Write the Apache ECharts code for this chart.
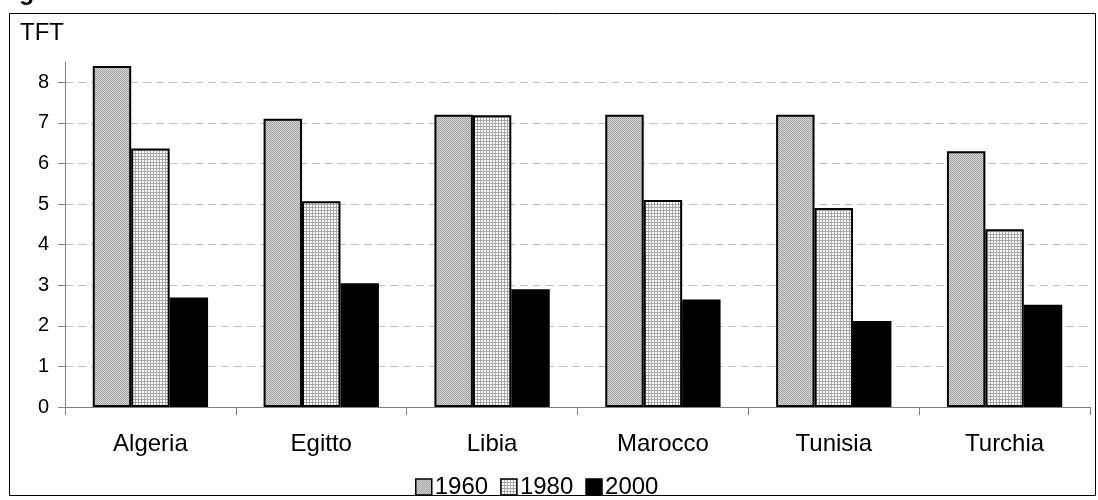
<!DOCTYPE html>
<html>
<head>
<meta charset="utf-8">
<script src="https://cdn.jsdelivr.net/npm/echarts@6/dist/echarts.min.js"></script>
<style>
  html, body { margin: 0; padding: 0; background: #ffffff; }
  #chart { width: 1098px; height: 500px; }
</style>
</head>
<body>
<div id="chart"></div>
<script>
// Total fertility rate (TFT) by country and year
const countries = ['Algeria', 'Egitto', 'Libia', 'Marocco', 'Tunisia', 'Turchia'];
const years = ['1960', '1980', '2000'];
const tft1960 = [8.4, 7.1, 7.2, 7.2, 7.2, 6.3];
const tft1980 = [6.37, 5.07, 7.19, 5.1, 4.9, 4.38];
const tft2000 = [2.7, 3.05, 2.9, 2.65, 2.12, 2.52];
const yTicks = [0, 1, 2, 3, 4, 5, 6, 7, 8];

const FONT = '"Liberation Sans", Arial, sans-serif';

// Fine grey dither fill
function ditherPattern() {
  const c = document.createElement('canvas');
  c.width = 2; c.height = 2;
  const g = c.getContext('2d');
  g.fillStyle = '#d6d6d6'; g.fillRect(0, 0, 2, 2);
  g.fillStyle = '#a2a2a2'; g.fillRect(0, 0, 1, 1); g.fillRect(1, 1, 1, 1);
  return c;
}
// Small white squares with grey grid lines
function gridPattern() {
  const c = document.createElement('canvas');
  c.width = 3; c.height = 3;
  const g = c.getContext('2d');
  g.fillStyle = '#ffffff'; g.fillRect(0, 0, 3, 3);
  g.fillStyle = '#a8a8a8'; g.fillRect(0, 0, 3, 1); g.fillRect(0, 0, 1, 3);
  return c;
}

const fills = [
  { image: ditherPattern(), repeat: 'repeat' },
  { image: gridPattern(), repeat: 'repeat' },
  '#000000'
];
const values = [tft1960, tft1980, tft2000];

const chart = echarts.init(document.getElementById('chart'), null, { renderer: 'canvas' });

chart.setOption({
  animation: false,
  backgroundColor: '#ffffff',
  textStyle: { fontFamily: FONT, color: '#000' },
  graphic: [
    {
      type: 'rect', silent: true, z: -1,
      shape: { x: 9.5, y: 13.5, width: 1086, height: 482 },
      style: { fill: null, stroke: '#000', lineWidth: 1 }
    },
    {
      type: 'text', left: 19, top: -19, silent: true,
      style: { text: 'g', font: 'bold 25px ' + FONT, fill: '#000' }
    },
    {
      type: 'text', left: 20, top: 21, silent: true,
      style: { text: 'TFT', font: '24px ' + FONT, fill: '#000' }
    }
  ],
  legend: {
    left: 410, top: 470,
    itemWidth: 16, itemHeight: 16, itemGap: 12,
    icon: 'rect',
    textStyle: { fontSize: 24, fontFamily: FONT, color: '#000', padding: [0, 0, 0, -2] },
    itemStyle: { borderColor: '#000', borderWidth: 1.5 },
    data: years
  },
  grid: { left: 65, right: 8, top: 62, bottom: 93 },
  xAxis: {
    type: 'category',
    data: countries,
    boundaryGap: true,
    axisLine: { lineStyle: { color: '#808080', width: 1 } },
    axisTick: { show: true, length: 8, inside: false, lineStyle: { color: '#808080' } },
    axisLabel: { fontSize: 24, color: '#000', fontFamily: FONT, margin: 25 },
    splitLine: { show: false }
  },
  yAxis: {
    type: 'value',
    min: 0, max: 8.5, interval: 1,
    axisLine: { show: true, lineStyle: { color: '#808080', width: 1 } },
    axisTick: { show: true, length: 7, lineStyle: { color: '#808080' }, customValues: yTicks },
    axisLabel: { fontSize: 20, color: '#000', fontFamily: FONT, margin: 16, customValues: yTicks },
    splitLine: { show: true, lineStyle: { color: '#c0c0c0', type: [8, 5], width: 1 } }
  },
  series: years.map((y, i) => ({
    name: y,
    type: 'bar',
    data: values[i],
    barGap: '0%',
    barCategoryGap: '32.5%',
    itemStyle: { color: fills[i], borderColor: '#000', borderWidth: 2 }
  }))
});
</script>
</body>
</html>
